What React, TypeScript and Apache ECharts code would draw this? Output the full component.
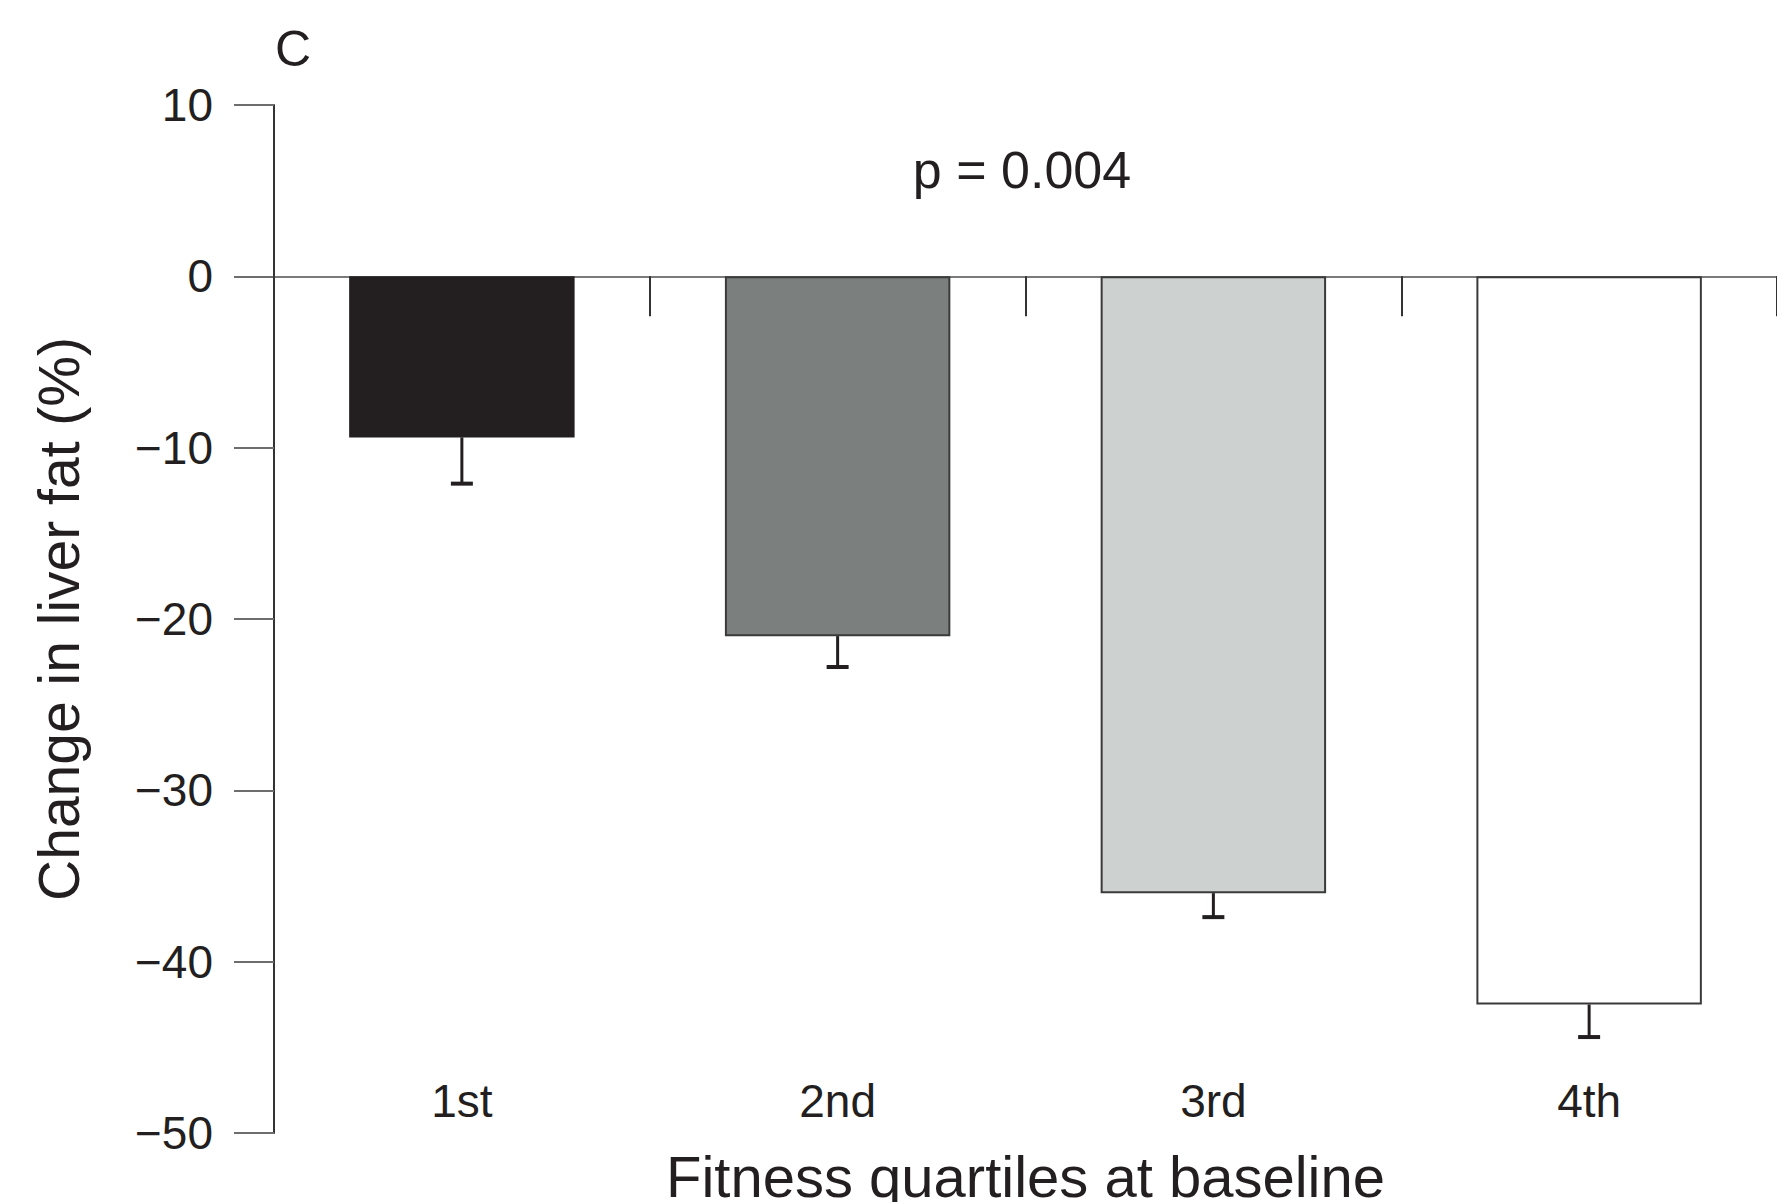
import React, { useEffect, useRef } from "react";
import * as echarts from "echarts";

const categories = ["1st", "2nd", "3rd", "4th"];
const changeValues = [-9.4, -21.0, -36.0, -42.5];
const errorLows = [-12.1, -22.8, -37.4, -44.4];
const barColors = ["#231f20", "#7b807f", "#cdd2d1", "#ffffff"];
const yTicks = { min: -50, max: 10, interval: 10 };
const panelLabel = "C";
const pValueText = "p = 0.004";

const FONT = "'Liberation Sans', Arial, sans-serif";
const TEXT = "#231f20";

export default function App() {
  const ref = useRef<HTMLDivElement>(null);
  useEffect(() => {
    if (!ref.current) return;
    const chart = echarts.init(ref.current, null, { renderer: "svg" });
    chart.setOption({
      animation: false,
      backgroundColor: "#ffffff",
      textStyle: { fontFamily: FONT },
      grid: {
        left: 274,
        right: 0,
        top: 105,
        bottom: 69,
        containLabel: false,
        outerBoundsMode: "none",
      },
      xAxis: {
        type: "category",
        data: categories,
        axisLine: { onZero: true, lineStyle: { color: "#7a7a7a", width: 2 } },
        axisTick: { show: true, length: 40, lineStyle: { color: "#333333", width: 2 } },
        axisLabel: { margin: -55, fontSize: 46, color: TEXT, fontFamily: FONT },
        name: "Fitness quartiles at baseline",
        nameLocation: "middle",
        nameGap: 14,
        nameTextStyle: { fontSize: 58, color: TEXT, fontFamily: FONT },
        splitLine: { show: false },
      },
      yAxis: {
        type: "value",
        min: yTicks.min,
        max: yTicks.max,
        interval: yTicks.interval,
        axisLine: { show: true, onZero: false, lineStyle: { color: "#333333", width: 2 } },
        axisTick: { show: true, length: 40, lineStyle: { color: "#6d6d6d", width: 2 } },
        axisLabel: {
          margin: 61,
          fontSize: 46,
          color: TEXT,
          fontFamily: FONT,
          formatter: (v: number) => String(v).replace("-", "\u2212"),
        },
        splitLine: { show: false },
        name: "Change in liver fat (%)",
        nameLocation: "middle",
        nameGap: 187,
        nameRotate: 90,
        nameTextStyle: { fontSize: 57, color: TEXT, fontFamily: FONT },
      },
      graphic: [
        {
          type: "text",
          left: 275,
          top: 24,
          style: { text: panelLabel, fontSize: 50, fill: TEXT, fontFamily: FONT },
        },
        {
          type: "text",
          x: 1022,
          y: 170,
          style: {
            text: pValueText,
            fontSize: 52,
            fill: TEXT,
            fontFamily: FONT,
            align: "center",
            verticalAlign: "middle",
          },
        },
      ],
      series: [
        {
          type: "bar",
          barWidth: "60%",
          data: changeValues.map((v, i) => ({
            value: v,
            itemStyle: {
              color: barColors[i],
              borderColor: i === 0 ? "#231f20" : "#3a3a3a",
              borderWidth: 2,
            },
          })),
          z: 2,
        },
        {
          type: "custom",
          z: 3,
          data: categories.map((_, i) => [i, changeValues[i], errorLows[i]]),
          renderItem: (params: any, api: any) => {
            const idx = api.value(0);
            const top = api.coord([idx, api.value(1)]);
            const bot = api.coord([idx, api.value(2)]);
            const half = 11;
            return {
              type: "group",
              children: [
                {
                  type: "line",
                  shape: { x1: top[0], y1: top[1], x2: bot[0], y2: bot[1] },
                  style: { stroke: "#231f20", lineWidth: 3 },
                },
                {
                  type: "line",
                  shape: { x1: bot[0] - half, y1: bot[1], x2: bot[0] + half, y2: bot[1] },
                  style: { stroke: "#231f20", lineWidth: 4 },
                },
              ],
            };
          },
        },
      ],
    });
    return () => chart.dispose();
  }, []);
  return (
    <div
      ref={ref}
      style={{ position: "fixed", left: 0, top: 0, width: 1777, height: 1202 }}
    />
  );
}
